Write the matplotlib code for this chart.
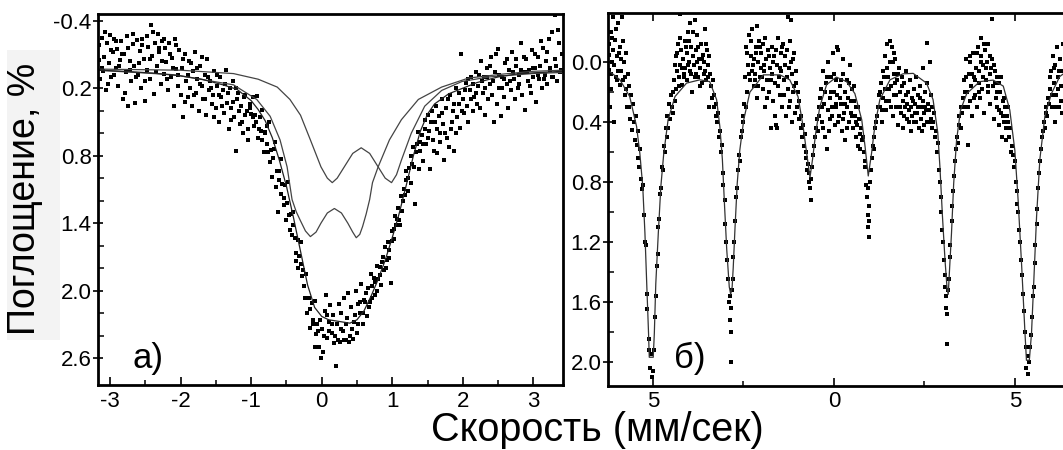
import matplotlib
matplotlib.use('Agg')
import matplotlib.pyplot as plt
from matplotlib.ticker import MultipleLocator
from matplotlib.patches import Rectangle

plt.rcParams['font.family'] = ['Liberation Sans', 'DejaVu Sans']
plt.rcParams['axes.unicode_minus'] = False

# ---- panel a) : measured points (velocity mm/s, absorption %)
a_points = [
    (-3.16, -0.18), (-3.14, 0.12), (-3.12, -0.25), (-3.10, 0.05), (-3.08, -0.08), (-3.06, 0.22),
    (-3.04, -0.20), (-3.02, -0.02), (-3.00, -0.27), (-2.98, 0.10), (-2.96, -0.12), (-2.94, -0.24),
    (-2.92, 0.02), (-2.90, -0.15), (-2.88, 0.18), (-2.86, -0.05), (-2.84, -0.22), (-2.82, 0.30),
    (-2.80, -0.10), (-2.78, 0.06), (-2.76, -0.26), (-2.74, 0.36), (-2.72, -0.04), (-2.70, 0.14),
    (-2.68, -0.19), (-2.66, 0.00), (-2.64, 0.33), (-2.62, -0.23), (-2.60, 0.08), (-2.58, -0.13),
    (-2.56, 0.20), (-2.54, -0.24), (-2.52, -0.06), (-2.50, 0.31), (-2.48, 0.04), (-2.46, -0.17),
    (-2.44, 0.12), (-2.42, -0.36), (-2.40, -0.09), (-2.38, 0.25), (-2.36, -0.20), (-2.34, 0.00),
    (-2.32, -0.28), (-2.30, -0.12), (-2.28, 0.16), (-2.26, -0.22), (-2.24, 0.07), (-2.22, -0.16),
    (-2.20, -0.03), (-2.18, 0.22), (-2.16, -0.20), (-2.14, 0.10), (-2.12, -0.07), (-2.10, 0.36),
    (-2.08, -0.24), (-2.06, 0.03), (-2.04, 0.18), (-2.02, -0.14), (-2.00, 0.26),
    (-1.98, 0.02), (-1.96, 0.46), (-1.94, -0.10), (-1.92, 0.14), (-1.90, 0.28), (-1.88, -0.04),
    (-1.86, 0.20), (-1.84, 0.36), (-1.82, 0.05), (-1.80, -0.12), (-1.78, 0.24), (-1.76, 0.12),
    (-1.74, 0.40), (-1.72, 0.00), (-1.70, 0.18), (-1.68, 0.30), (-1.66, 0.08), (-1.64, 0.44),
    (-1.62, -0.06), (-1.60, 0.22), (-1.58, 0.14), (-1.56, 0.34), (-1.54, 0.26), (-1.52, 0.05),
    (-1.50, 0.38), (-1.48, 0.18), (-1.46, 0.50), (-1.44, 0.10), (-1.42, 0.28), (-1.40, 0.22),
    (-1.38, 0.42), (-1.36, 0.04), (-1.34, 0.33), (-1.32, 0.56), (-1.30, 0.20), (-1.28, 0.38),
    (-1.26, 0.14), (-1.24, 0.46), (-1.22, 0.76), (-1.20, 0.30), (-1.18, 0.24), (-1.16, 0.52),
    (-1.14, 0.36), (-1.12, 0.60), (-1.10, 0.28), (-1.08, 0.44), (-1.06, 0.40), (-1.04, 0.66),
    (-1.02, 0.34),
    (-1.00, 0.43), (-0.98, 0.28), (-0.96, 0.54), (-0.94, 0.44), (-0.92, 0.27), (-0.90, 0.64),
    (-0.88, 0.46), (-0.86, 0.58), (-0.84, 0.39), (-0.82, 0.77), (-0.80, 0.59), (-0.78, 0.54),
    (-0.76, 0.77), (-0.74, 0.50), (-0.72, 0.75), (-0.70, 0.99), (-0.68, 0.74), (-0.66, 0.68),
    (-0.64, 0.94), (-0.62, 1.30), (-0.60, 0.94), (-0.58, 0.83), (-0.56, 1.05), (-0.54, 1.18),
    (-0.52, 1.06), (-0.50, 1.37), (-0.48, 1.03), (-0.46, 1.33), (-0.44, 1.32), (-0.42, 1.51),
    (-0.40, 1.30), (-0.38, 1.53), (-0.36, 1.67), (-0.34, 1.55), (-0.32, 1.69), (-0.30, 1.57),
    (-0.28, 1.87), (-0.26, 1.82), (-0.24, 2.07), (-0.22, 1.85), (-0.20, 2.07), (-0.18, 2.07),
    (-0.16, 2.33), (-0.14, 2.11), (-0.12, 2.26), (-0.10, 2.09), (-0.08, 2.39), (-0.06, 2.30),
    (-0.04, 2.50), (-0.02, 2.26),
    (0.00, 2.34), (0.02, 2.55), (0.04, 2.18), (0.06, 2.04), (0.08, 2.42), (0.10, 2.28),
    (0.12, 2.13), (0.14, 2.38), (0.16, 2.22), (0.18, 2.47), (0.20, 2.67), (0.22, 2.30),
    (0.24, 2.12), (0.26, 2.46), (0.28, 2.20), (0.30, 2.36), (0.32, 2.07), (0.34, 2.44),
    (0.36, 2.24), (0.38, 2.02), (0.40, 2.40), (0.42, 2.15), (0.44, 2.43), (0.46, 2.28),
    (0.48, 2.00), (0.50, 2.38), (0.52, 2.12), (0.54, 2.20), (0.56, 1.94), (0.58, 2.30),
    (0.60, 2.08),
    (0.62, 2.10), (0.64, 2.23), (0.66, 1.98), (0.68, 2.10), (0.70, 1.85), (0.72, 2.07),
    (0.74, 1.89), (0.76, 2.04), (0.78, 1.78), (0.80, 1.90), (0.82, 1.79), (0.84, 1.95),
    (0.86, 1.75), (0.88, 1.82), (0.90, 1.61), (0.92, 1.73), (0.94, 1.57), (0.96, 1.71),
    (0.98, 1.93), (1.00, 1.47), (1.02, 1.54), (1.04, 1.34), (1.06, 1.42), (1.08, 1.27),
    (1.10, 1.37), (1.12, 1.16), (1.14, 1.29), (1.16, 1.10), (1.18, 1.15), (1.20, 0.94),
    (1.22, 1.11), (1.24, 0.91), (1.26, 1.04), (1.28, 0.87), (1.30, 0.72), (1.32, 1.23),
    (1.34, 0.77), (1.36, 0.59), (1.38, 0.92), (1.40, 0.68),
    (1.42, 0.62), (1.44, 0.85), (1.46, 0.48), (1.48, 0.70), (1.50, 0.44), (1.52, 0.58),
    (1.54, 0.92), (1.56, 0.40), (1.58, 0.66), (1.60, 0.50), (1.62, 0.36), (1.64, 0.78),
    (1.66, 0.45), (1.68, 0.60), (1.70, 0.30), (1.72, 0.52), (1.74, 0.84), (1.76, 0.38),
    (1.78, 0.64), (1.80, 0.72), (1.82, 0.26), (1.84, 0.50), (1.86, 0.40), (1.88, 0.76),
    (1.90, 0.20), (1.92, 0.46), (1.94, 0.34), (1.96, 0.55), (1.98, -0.10), (2.00, 0.30),
    (2.02, 0.42), (2.04, 0.15), (2.06, 0.36), (2.08, 0.50), (2.10, 0.22), (2.12, 0.10),
    (2.14, 0.40), (2.16, 0.28), (2.18, 0.06), (2.20, 0.34),
    (2.22, 0.18), (2.24, 0.38), (2.26, -0.04), (2.28, 0.24), (2.30, 0.10), (2.32, 0.44),
    (2.34, 0.02), (2.36, 0.30), (2.38, 0.16), (2.40, -0.08), (2.42, 0.26), (2.44, 0.50),
    (2.46, 0.06), (2.48, 0.34), (2.50, -0.15), (2.52, 0.20), (2.54, 0.45), (2.56, 0.10),
    (2.58, 0.28), (2.60, -0.02), (2.62, 0.16), (2.64, 0.38), (2.66, 0.04), (2.68, 0.22),
    (2.70, -0.12), (2.72, 0.12), (2.74, 0.30), (2.76, 0.00), (2.78, 0.20), (2.80, 0.08),
    (2.82, -0.20), (2.84, 0.26), (2.86, 0.06), (2.88, 0.39), (2.90, -0.06), (2.92, 0.14),
    (2.94, 0.04), (2.96, 0.24), (2.98, -0.14), (3.00, 0.10), (3.02, 0.02), (3.04, 0.32),
    (3.06, -0.08), (3.08, 0.12), (3.10, 0.00), (3.12, 0.20), (3.14, -0.16), (3.16, 0.08),
    (3.18, -0.04), (3.20, 0.16), (3.22, -0.24), (3.24, 0.04), (3.26, -0.30), (3.28, 0.10),
    (3.30, -0.45), (3.32, 0.00), (3.34, 0.14), (3.36, -0.20), (3.38, 0.06), (3.40, -0.10),
    # second sweep of the same velocity range
    (-3.15, -0.05), (-3.11, 0.02), (-3.07, -0.30), (-3.03, 0.16), (-2.99, -0.14), (-2.95, 0.08),
    (-2.91, -0.22), (-2.87, 0.00), (-2.83, -0.10), (-2.79, 0.24), (-2.75, -0.16), (-2.71, 0.04),
    (-2.67, -0.28), (-2.63, 0.10), (-2.59, -0.02), (-2.55, -0.18), (-2.51, 0.14), (-2.47, -0.26),
    (-2.43, -0.06), (-2.39, -0.30), (-2.35, 0.06), (-2.31, -0.16), (-2.27, -0.04), (-2.23, -0.24),
    (-2.19, 0.12), (-2.15, -0.10), (-2.11, 0.02), (-2.07, -0.18), (-2.03, 0.08),
    (-1.97, -0.06), (-1.93, 0.32), (-1.89, 0.08), (-1.85, -0.02), (-1.81, 0.26), (-1.77, 0.02),
    (-1.73, 0.16), (-1.69, -0.08), (-1.65, 0.30), (-1.61, 0.10), (-1.57, 0.20), (-1.53, 0.46),
    (-1.49, 0.08), (-1.45, 0.26), (-1.41, 0.36), (-1.37, 0.16), (-1.33, 0.24), (-1.29, 0.48),
    (-1.25, 0.32), (-1.21, 0.20), (-1.17, 0.40), (-1.13, 0.50), (-1.09, 0.26), (-1.05, 0.56),
    (-1.01, 0.38),
    (-0.97, 0.46), (-0.93, 0.50), (-0.89, 0.56), (-0.85, 0.66), (-0.81, 0.60), (-0.77, 0.70),
    (-0.73, 0.86), (-0.69, 0.82), (-0.65, 1.08), (-0.61, 1.02), (-0.57, 1.14), (-0.53, 1.24),
    (-0.49, 1.22), (-0.45, 1.46), (-0.41, 1.42), (-0.37, 1.74), (-0.33, 1.80), (-0.29, 1.76),
    (-0.25, 1.96), (-0.21, 2.20), (-0.17, 2.16), (-0.13, 2.30), (-0.09, 2.50), (-0.05, 2.36),
    (-0.01, 2.60),
    (0.03, 2.40), (0.07, 2.22), (0.11, 2.36), (0.15, 2.30), (0.19, 2.40), (0.23, 2.44),
    (0.27, 2.34), (0.31, 2.44), (0.35, 2.30), (0.39, 2.46), (0.43, 2.34), (0.47, 2.22),
    (0.51, 2.30), (0.55, 2.10), (0.59, 2.20),
    (0.63, 2.02), (0.67, 2.15), (0.71, 1.96), (0.75, 1.92), (0.79, 2.00), (0.83, 1.86),
    (0.87, 1.70), (0.91, 1.80), (0.95, 1.64), (0.99, 1.56), (1.03, 1.45), (1.07, 1.36),
    (1.11, 1.42), (1.15, 1.20), (1.19, 1.02), (1.23, 1.00), (1.27, 0.80), (1.31, 0.90),
    (1.35, 0.70), (1.39, 0.76),
    (1.43, 0.70), (1.47, 0.56), (1.51, 0.64), (1.55, 0.50), (1.59, 0.76), (1.63, 0.56),
    (1.67, 0.68), (1.71, 0.42), (1.75, 0.60), (1.79, 0.30), (1.83, 0.56), (1.87, 0.34),
    (1.91, 0.60), (1.95, 0.24), (1.99, 0.40), (2.03, 0.22), (2.07, 0.12), (2.11, 0.30),
    (2.15, 0.16), (2.19, 0.24), (2.23, 0.08), (2.27, 0.14), (2.31, 0.20), (2.35, 0.10),
    (2.39, 0.00), (2.43, 0.14), (2.47, -0.10), (2.51, 0.08), (2.55, 0.20), (2.59, 0.12),
    (2.63, -0.06), (2.67, 0.14), (2.71, 0.06), (2.75, -0.06), (2.79, 0.16), (2.83, 0.04),
    (2.87, -0.08), (2.91, 0.06), (2.95, 0.18), (2.99, 0.02), (3.03, -0.10), (3.07, 0.08),
    (3.11, -0.22), (3.15, 0.12), (3.19, -0.12), (3.23, 0.02), (3.27, 0.10), (3.31, -0.06),
    (3.35, -0.32), (3.39, 0.04),
]

# ---- panel a) : fitted envelope and the two doublets
a_fit_x = [-3.17, -2.8, -2.4, -2.0, -1.7, -1.4, -1.2, -1.0, -0.9, -0.8, -0.7, -0.6, -0.5, -0.4,
           -0.3, -0.2, -0.1, 0.0, 0.1, 0.2, 0.3, 0.4, 0.5, 0.6, 0.7, 0.8, 0.9, 1.0, 1.1, 1.2,
           1.3, 1.4, 1.5, 1.6, 1.8, 2.0, 2.2, 2.5, 2.8, 3.1, 3.42]
a_fit_y = [0.04, 0.05, 0.065, 0.09, 0.12, 0.17, 0.21, 0.31, 0.39, 0.49, 0.64, 0.84, 1.07, 1.35,
           1.65, 1.95, 2.15, 2.23, 2.26, 2.27, 2.28, 2.29, 2.26, 2.18, 2.05, 1.90, 1.73, 1.53,
           1.31, 1.06, 0.80, 0.58, 0.43, 0.34, 0.25, 0.20, 0.15, 0.10, 0.07, 0.06, 0.05]

a_d1_x = [-3.17, -2.1, -1.25, -0.92, -0.73, -0.59, -0.49, -0.42, -0.36, -0.30, -0.23, -0.16,
          -0.08, -0.01, 0.08, 0.18, 0.28, 0.37, 0.44, 0.49, 0.54, 0.58, 0.63, 0.68, 0.72, 0.80,
          0.96, 1.13, 1.37, 1.70, 2.08, 2.56, 2.99, 3.42]
a_d1_y = [0.04, 0.08, 0.17, 0.30, 0.45, 0.66, 0.90, 1.19, 1.30, 1.38, 1.47, 1.52, 1.48, 1.40,
          1.31, 1.27, 1.31, 1.40, 1.48, 1.53, 1.50, 1.43, 1.32, 1.19, 1.04, 0.90, 0.66, 0.48,
          0.30, 0.19, 0.11, 0.075, 0.05, 0.04]

a_d2_x = [-3.17, -2.0, -1.25, -0.9, -0.63, -0.45, -0.30, -0.16, -0.01, 0.08, 0.15, 0.22,
          0.32, 0.44, 0.56, 0.68, 0.80, 0.90, 0.99, 1.06, 1.13, 1.27, 1.46, 1.70, 1.99, 2.37,
          2.99, 3.42]
a_d2_y = [0.03, 0.04, 0.07, 0.12, 0.19, 0.30, 0.44, 0.66, 0.90, 1.00, 1.04, 1.00, 0.90, 0.78,
          0.73, 0.78, 0.90, 1.00, 1.04, 0.97, 0.84, 0.60, 0.36, 0.22, 0.14, 0.10, 0.07, 0.06]

# ---- panel б) : measured points
b_points = [
    (-6.22, 0.05), (-6.20, -0.12), (-6.17, 0.18), (-6.15, -0.20), (-6.12, 0.00), (-6.10, -0.08),
    (-6.07, 0.40), (-6.05, -0.15), (-6.02, 0.10), (-6.00, -0.04), (-5.97, -0.26), (-5.95, 0.06),
    (-5.92, -0.10), (-5.90, 0.15), (-5.87, -0.02), (-5.85, -0.30), (-5.82, 0.12), (-5.80, 0.00),
    (-5.77, 0.22), (-5.75, -0.06), (-5.72, 0.30), (-5.70, 0.08),
    (-5.67, 0.30), (-5.65, 0.16), (-5.62, 0.38), (-5.60, 0.22), (-5.57, 0.45), (-5.55, 0.28),
    (-5.52, 0.40), (-5.50, 0.52), (-5.47, 0.36), (-5.45, 0.55), (-5.42, 0.46), (-5.40, 0.64),
    (-5.37, 0.70), (-5.35, 0.58), (-5.32, 0.78), (-5.30, 0.85), (-5.27, 0.82), (-5.25, 1.02),
    (-5.22, 1.20), (-5.20, 1.22), (-5.17, 1.55), (-5.15, 1.65), (-5.12, 1.85), (-5.10, 1.92),
    (-5.07, 2.04), (-5.05, 1.95), (-5.02, 2.10), (-5.00, 2.06), (-4.97, 1.92), (-4.95, 1.70),
    (-4.92, 1.56), (-4.90, 1.36), (-4.87, 1.28), (-4.85, 1.10), (-4.82, 1.05), (-4.80, 0.88),
    (-4.77, 0.84), (-4.75, 0.70), (-4.72, 0.72), (-4.70, 0.56), (-4.67, 0.60), (-4.65, 0.44),
    (-4.62, 0.50), (-4.60, 0.36), (-4.57, 0.44), (-4.55, 0.28), (-4.52, 0.38), (-4.50, 0.22),
    (-4.47, 0.30),
    (-4.45, 0.34), (-4.42, 0.12), (-4.40, 0.26), (-4.37, -0.04), (-4.35, 0.18), (-4.32, 0.06),
    (-4.30, -0.12), (-4.27, 0.10), (-4.25, 0.02), (-4.22, -0.08), (-4.20, 0.15), (-4.17, -0.02),
    (-4.15, 0.08), (-4.12, -0.14), (-4.10, 0.04), (-4.07, -0.06), (-4.05, 0.12), (-4.02, -0.20),
    (-4.00, 0.00), (-3.97, 0.06), (-3.95, -0.10), (-3.92, 0.20), (-3.90, -0.04), (-3.87, 0.02),
    (-3.85, -0.28), (-3.82, 0.08), (-3.80, -0.08), (-3.77, -0.18), (-3.75, 0.10), (-3.72, -0.02),
    (-3.70, 0.04), (-3.67, -0.12), (-3.65, 0.14), (-3.62, -0.05), (-3.60, 0.00), (-3.57, -0.22),
    (-3.55, 0.06), (-3.52, 0.12), (-3.50, -0.08), (-3.47, 0.02), (-3.45, 0.30), (-3.42, 0.08),
    (-3.40, 0.16),
    (-3.37, 0.24), (-3.35, 0.12), (-3.32, 0.30), (-3.30, 0.22), (-3.27, 0.36), (-3.25, 0.28),
    (-3.22, 0.40), (-3.20, 0.34), (-3.17, 0.50), (-3.15, 0.46), (-3.12, 0.60), (-3.10, 0.55),
    (-3.07, 0.74), (-3.05, 0.82), (-3.02, 0.92), (-3.00, 1.08), (-2.97, 1.20), (-2.95, 1.32),
    (-2.92, 1.45), (-2.90, 1.60), (-2.88, 1.56), (-2.87, 1.72), (-2.85, 1.64), (-2.84, 1.80),
    (-2.83, 2.00), (-2.82, 1.52), (-2.80, 1.45), (-2.78, 1.30), (-2.75, 1.20), (-2.73, 1.06),
    (-2.70, 0.90), (-2.68, 0.84), (-2.65, 0.72), (-2.62, 0.62), (-2.60, 0.66), (-2.57, 0.50),
    (-2.55, 0.46), (-2.52, 0.36), (-2.50, 0.40), (-2.47, 0.28),
    (-2.45, 0.10), (-2.42, -0.10), (-2.40, 0.20), (-2.37, 0.02), (-2.35, -0.18), (-2.32, 0.12),
    (-2.30, -0.04), (-2.27, 0.06), (-2.25, -0.22), (-2.22, 0.16), (-2.20, -0.02), (-2.17, 0.08),
    (-2.15, -0.10), (-2.12, 0.24), (-2.10, 0.00), (-2.07, -0.14), (-2.05, 0.10), (-2.02, 0.04),
    (-2.00, -0.06), (-1.97, 0.18), (-1.95, -0.12), (-1.92, 0.06), (-1.90, 0.30), (-1.87, -0.02),
    (-1.85, 0.12), (-1.82, -0.08), (-1.80, 0.20), (-1.77, 0.04), (-1.75, 0.44), (-1.72, -0.10),
    (-1.70, 0.08), (-1.67, 0.26), (-1.65, -0.04), (-1.62, 0.14), (-1.60, 0.42), (-1.57, 0.02),
    (-1.55, -0.16), (-1.52, 0.10), (-1.50, 0.22), (-1.47, -0.06), (-1.45, 0.06), (-1.42, 0.30),
    (-1.40, -0.12), (-1.37, 0.12), (-1.35, 0.02), (-1.32, 0.36), (-1.30, -0.08), (-1.28, -0.30),
    (-1.27, 0.18), (-1.25, 0.04), (-1.22, -0.14), (-1.20, 0.26), (-1.19, -0.28), (-1.17, 0.08),
    (-1.15, 0.40), (-1.12, -0.02), (-1.10, 0.16), (-1.07, 0.34), (-1.05, 0.06),
    (-1.02, 0.30), (-1.00, 0.20), (-0.97, 0.38), (-0.95, 0.26), (-0.92, 0.44), (-0.90, 0.36),
    (-0.87, 0.50), (-0.85, 0.42), (-0.82, 0.56), (-0.80, 0.48), (-0.78, 0.64), (-0.76, 0.60),
    (-0.74, 0.72), (-0.72, 0.68), (-0.70, 0.80), (-0.68, 0.74), (-0.66, 0.84), (-0.64, 0.78),
    (-0.62, 0.92), (-0.60, 0.70), (-0.58, 0.62), (-0.55, 0.56), (-0.52, 0.50), (-0.50, 0.44),
    (-0.47, 0.38), (-0.45, 0.46), (-0.42, 0.30), (-0.40, 0.36), (-0.37, 0.24),
    (-0.35, 0.18), (-0.32, 0.40), (-0.30, 0.06), (-0.27, 0.28), (-0.25, 0.50), (-0.22, 0.14),
    (-0.20, 0.58), (-0.17, 0.32), (-0.15, 0.00), (-0.12, 0.24), (-0.10, 0.38), (-0.07, 0.10),
    (-0.05, 0.30), (-0.02, -0.06), (0.00, 0.20), (0.02, 0.42), (0.05, 0.12), (0.07, 0.30),
    (0.10, 0.22), (0.12, -0.08), (0.15, 0.36), (0.17, 0.16), (0.20, 0.28), (0.22, 0.46),
    (0.25, 0.08), (0.27, 0.34), (0.30, 0.20), (0.32, 0.52), (0.35, 0.12), (0.37, 0.30),
    (0.40, 0.24), (0.42, 0.40), (0.45, 0.02), (0.47, 0.34), (0.50, 0.18), (0.52, 0.44),
    (0.55, 0.26), (0.57, 0.36), (0.60, 0.50), (0.62, 0.30), (0.65, 0.42), (0.67, 0.56),
    (0.70, 0.38), (0.72, 0.48),
    (0.75, 0.44), (0.77, 0.52), (0.80, 0.50), (0.82, 0.60), (0.85, 0.66), (0.87, 0.70),
    (0.90, 0.82), (0.92, 0.90), (0.93, 1.02), (0.94, 0.84), (0.95, 1.10), (0.96, 0.96),
    (0.97, 1.17), (0.98, 1.06), (1.00, 0.80), (1.02, 0.72), (1.05, 0.64), (1.07, 0.56),
    (1.10, 0.50), (1.12, 0.58), (1.15, 0.44), (1.17, 0.40), (1.20, 0.36), (1.22, 0.30),
    (1.25, 0.22),
    (1.27, 0.30), (1.30, 0.14), (1.32, 0.40), (1.35, 0.06), (1.37, 0.24), (1.40, -0.04),
    (1.42, 0.18), (1.45, 0.32), (1.47, -0.12), (1.50, 0.10), (1.52, 0.26), (1.55, 0.00),
    (1.57, 0.16), (1.60, -0.10), (1.62, 0.36), (1.65, 0.08), (1.67, 0.22), (1.70, -0.02),
    (1.72, 0.30), (1.75, 0.12), (1.77, 0.42), (1.80, 0.04), (1.82, 0.20), (1.85, 0.34),
    (1.87, 0.10), (1.90, 0.26), (1.92, 0.44), (1.95, 0.14), (1.97, 0.30), (2.00, 0.06),
    (2.02, 0.38), (2.05, 0.20), (2.07, 0.32), (2.10, 0.12), (2.12, 0.46), (2.15, 0.24),
    (2.17, 0.36), (2.20, 0.18), (2.22, 0.40), (2.25, 0.28), (2.27, 0.10), (2.30, 0.34),
    (2.32, 0.22), (2.35, 0.44), (2.37, 0.16), (2.40, 0.30), (2.42, 0.38), (2.45, 0.04),
    (2.47, 0.26), (2.50, 0.42), (2.52, 0.20), (2.55, 0.32), (2.56, -0.13), (2.57, 0.14),
    (2.60, 0.28), (2.62, 0.40), (2.65, 0.00), (2.67, 0.22), (2.70, 0.44),
    (2.72, 0.30), (2.75, 0.40), (2.77, 0.34), (2.80, 0.50), (2.82, 0.46), (2.85, 0.60),
    (2.87, 0.54), (2.90, 0.72), (2.92, 0.80), (2.95, 0.90), (2.97, 1.00), (3.00, 1.12),
    (3.02, 1.20), (3.05, 1.32), (3.07, 1.42), (3.08, 1.50), (3.10, 1.56), (3.11, 1.64),
    (3.12, 1.88), (3.13, 1.68), (3.15, 1.52), (3.17, 1.45), (3.20, 1.30), (3.22, 1.22),
    (3.25, 1.06), (3.27, 0.96), (3.30, 0.86), (3.32, 0.76), (3.35, 0.66), (3.37, 0.58),
    (3.40, 0.50), (3.42, 0.54), (3.45, 0.42), (3.47, 0.36), (3.50, 0.44), (3.52, 0.30),
    (3.55, 0.34), (3.57, 0.24),
    (3.60, 0.12), (3.62, 0.30), (3.65, -0.02), (3.67, 0.20), (3.70, 0.55), (3.72, 0.08),
    (3.75, 0.26), (3.77, 0.00), (3.80, 0.16), (3.82, 0.36), (3.85, -0.06), (3.87, 0.10),
    (3.90, 0.22), (3.92, 0.04), (3.95, 0.30), (3.97, -0.10), (4.00, 0.14), (4.02, 0.06),
    (4.05, 0.24), (4.07, -0.04), (4.10, 0.18), (4.12, 0.02), (4.15, 0.34), (4.17, -0.08),
    (4.20, 0.12), (4.22, 0.00), (4.25, 0.20), (4.27, -0.12), (4.30, 0.08), (4.32, 0.28),
    (4.35, 0.04), (4.36, -0.29), (4.37, -0.02), (4.40, 0.16), (4.42, 0.38), (4.45, 0.06),
    (4.47, 0.24), (4.50, 0.10), (4.52, 0.30), (4.55, 0.14), (4.57, 0.42), (4.60, 0.20),
    (4.62, 0.34), (4.65, 0.50), (4.67, 0.26), (4.70, 0.40), (4.72, 0.30), (4.75, 0.52),
    (4.77, 0.36),
    (4.80, 0.40), (4.82, 0.30), (4.85, 0.50), (4.87, 0.44), (4.90, 0.60), (4.92, 0.56),
    (4.95, 0.62), (4.97, 0.70), (5.00, 0.66), (5.02, 0.80), (5.05, 0.86), (5.07, 0.95),
    (5.10, 1.00), (5.12, 1.12), (5.15, 1.20), (5.17, 1.32), (5.20, 1.42), (5.22, 1.55),
    (5.25, 1.66), (5.27, 1.80), (5.30, 1.90), (5.32, 2.04), (5.35, 1.96), (5.37, 2.08),
    (5.40, 2.00), (5.42, 1.90), (5.45, 1.82), (5.47, 1.70), (5.50, 1.56), (5.52, 1.50),
    (5.55, 1.34), (5.57, 1.22), (5.60, 1.08), (5.62, 0.98), (5.65, 0.84), (5.67, 0.74),
    (5.70, 0.66), (5.72, 0.58), (5.75, 0.50), (5.77, 0.46), (5.80, 0.40), (5.82, 0.44),
    (5.85, 0.34), (5.87, 0.30), (5.90, 0.36), (5.92, 0.24), (5.95, 0.28),
    (5.97, 0.18), (6.00, 0.06), (6.02, 0.30), (6.05, -0.04), (6.07, 0.14), (6.10, 0.40),
    (6.12, 0.02), (6.15, 0.22), (6.17, -0.10), (6.20, 0.10), (6.22, 0.30), (6.25, -0.02),
    (6.27, 0.16), (6.30, 0.06), (6.32, -0.12),
    # second sweep, baseline stretches between the lines
    (-6.21, -0.05), (-6.16, 0.08), (-6.13, -0.16), (-6.08, 0.02), (-6.03, -0.22), (-5.98, 0.12),
    (-5.93, -0.06), (-5.88, 0.06), (-5.83, -0.14), (-5.78, 0.10), (-5.73, 0.18), (-6.18, 0.30),
    (-6.11, -0.30),
    (-4.44, 0.20), (-4.39, 0.02), (-4.34, -0.06), (-4.29, 0.16), (-4.24, -0.16), (-4.19, 0.04),
    (-4.14, 0.10), (-4.09, -0.10), (-4.04, 0.02), (-3.99, -0.14), (-3.94, 0.08), (-3.89, -0.20),
    (-3.84, 0.10), (-3.79, 0.00), (-3.74, -0.10), (-3.69, 0.16), (-3.64, -0.02), (-3.59, 0.08),
    (-3.54, -0.12), (-3.49, 0.10), (-3.44, -0.04), (-4.26, -0.32), (-3.98, -0.26),
    (-2.44, 0.30), (-2.39, -0.06), (-2.34, 0.08), (-2.29, -0.14), (-2.24, 0.02), (-2.19, 0.12),
    (-2.14, -0.06), (-2.09, 0.16), (-2.04, -0.10), (-1.99, 0.10), (-1.94, 0.02), (-1.89, -0.16),
    (-1.84, 0.24), (-1.79, -0.04), (-1.74, 0.12), (-1.69, 0.00), (-1.64, 0.36), (-1.59, -0.08),
    (-1.54, 0.16), (-1.49, 0.04), (-1.44, -0.10), (-1.39, 0.22), (-1.34, -0.04), (-1.29, 0.10),
    (-1.24, 0.30), (-1.19, 0.00), (-1.14, 0.20), (-1.09, -0.06), (-1.04, 0.14), (-2.12, -0.24),
    (-1.56, 0.44),
    (-0.34, 0.30), (-0.29, 0.44), (-0.24, 0.20), (-0.19, 0.10), (-0.14, 0.46), (-0.09, 0.20),
    (-0.04, 0.36), (0.01, 0.08), (0.06, 0.28), (0.11, 0.40), (0.16, 0.24), (0.21, 0.12),
    (0.26, 0.38), (0.31, 0.28), (0.36, 0.44), (0.41, 0.14), (0.46, 0.26), (0.51, 0.36),
    (0.56, 0.16), (0.61, 0.40), (0.66, 0.30), (0.71, 0.58), (0.09, -0.10), (0.24, -0.02),
    (1.28, 0.20), (1.33, 0.32), (1.38, 0.10), (1.43, 0.26), (1.48, 0.04), (1.53, 0.18),
    (1.58, 0.30), (1.63, 0.00), (1.68, 0.14), (1.73, 0.22), (1.78, 0.08), (1.83, 0.30),
    (1.88, 0.16), (1.93, 0.36), (1.98, 0.22), (2.03, 0.28), (2.08, 0.40), (2.13, 0.30),
    (2.18, 0.26), (2.23, 0.34), (2.28, 0.40), (2.33, 0.30), (2.38, 0.24), (2.43, 0.46),
    (2.48, 0.34), (2.53, 0.30), (2.58, 0.40), (2.63, 0.32), (2.68, 0.38), (1.56, -0.14),
    (1.66, -0.06),
    (3.61, 0.20), (3.66, 0.10), (3.71, 0.30), (3.76, -0.04), (3.81, 0.08), (3.86, 0.24),
    (3.91, 0.12), (3.96, -0.06), (4.01, 0.20), (4.06, 0.00), (4.11, 0.10), (4.16, -0.12),
    (4.21, 0.04), (4.26, 0.16), (4.31, -0.04), (4.41, 0.02), (4.46, 0.14), (4.51, 0.20),
    (4.56, 0.32), (4.61, 0.10), (4.66, 0.36), (4.71, 0.24), (4.76, 0.44), (4.06, -0.16),
    (5.98, 0.10), (6.03, 0.22), (6.08, 0.04), (6.13, 0.30), (6.18, 0.18), (6.23, 0.06),
    (6.28, 0.26), (6.31, 0.34),
]

# ---- panel б) : fitted sextet
b_fit_x = [-6.24, -6.19, -5.91, -5.64, -5.45, -5.36, -5.28, -5.22, -5.17, -5.12, -5.10, -4.99,
           -4.96, -4.92, -4.85, -4.78, -4.70, -4.58, -4.39, -4.07, -3.70, -3.43, -3.24, -3.15,
           -3.08, -3.02, -2.96, -2.89, -2.85, -2.81, -2.78, -2.73, -2.67, -2.60, -2.49, -2.32,
           -2.09, -1.95, -1.49, -1.22, -0.99, -0.85, -0.75, -0.66, -0.59, -0.50, -0.39, -0.20,
           0.07, 0.35, 0.58, 0.77, 0.86, 0.95, 1.04, 1.13, 1.27, 1.55, 1.91, 2.19, 2.56, 2.74,
           2.87, 2.93, 3.00, 3.07, 3.13, 3.16, 3.19, 3.25, 3.31, 3.39, 3.50, 3.67, 4.03, 4.40,
           4.68, 4.86, 5.00, 5.09, 5.19, 5.28, 5.32, 5.40, 5.46, 5.52, 5.60, 5.69, 5.83, 6.01,
           6.24, 6.33]
b_fit_y = [0.07, 0.063, 0.118, 0.23, 0.43, 0.61, 0.83, 1.14, 1.48, 1.81, 1.97, 1.97,
           1.81, 1.48, 1.14, 0.83, 0.61, 0.385, 0.23, 0.14, 0.118, 0.13, 0.25, 0.43,
           0.65, 0.96, 1.25, 1.50, 1.55, 1.50, 1.37, 1.10, 0.81, 0.59, 0.385, 0.20,
           0.13, 0.085, 0.085, 0.118, 0.23, 0.43, 0.61, 0.77, 0.65, 0.47, 0.30, 0.15,
           0.10, 0.13, 0.21, 0.385, 0.56, 0.76, 0.61, 0.43, 0.25, 0.118, 0.078, 0.075, 0.14, 0.25,
           0.47, 0.70, 1.03, 1.32, 1.52, 1.55, 1.41, 1.14, 0.81, 0.52, 0.32, 0.21, 0.13, 0.12,
           0.16, 0.32, 0.59, 0.92, 1.37, 1.81, 1.99, 1.99, 1.81, 1.48, 1.03, 0.65, 0.36, 0.21,
           0.096, 0.08]

# ---- axis texts and ticks
a_yticks = [-0.4, 0.2, 0.8, 1.4, 2.0, 2.6]
a_yticklabels = ['-0.4', '0.2', '0.8', '1.4', '2.0', '2.6']
a_yminor = [0.4, 0.6, 1.0, 1.2, 1.6, 1.8, 2.2, 2.4]
a_xticks = [-3, -2, -1, 0, 1, 2, 3]
a_xticklabels = ['-3', '-2', '-1', '0', '1', '2', '3']
b_yticks = [0.0, 0.4, 0.8, 1.2, 1.6, 2.0]
b_yticklabels = ['0.0', '0.4', '0.8', '1.2', '1.6', '2.0']
b_yminor = [0.2, 0.6, 1.0, 1.4, 1.8]
b_xticks = [-5, 0, 5]
b_xticklabels = ['5', '0', '5']
Y_LABEL = 'Поглощение, %'
X_LABEL = 'Скорость (мм/сек)'

W, H = 1063, 450   # figure size in pixels


def style_axes(ax):
    for s in ax.spines.values():
        s.set_linewidth(2.0)
    ax.tick_params(axis='y', which='major', direction='inout', length=7, width=1.2,
                   labelsize=16, pad=1)
    ax.tick_params(axis='y', which='minor', direction='in', length=4, width=1.1)
    ax.tick_params(axis='x', which='major', direction='in', length=6, width=1.2,
                   labelsize=16, pad=4)
    ax.tick_params(axis='x', which='minor', direction='in', length=3.5, width=1.1)


def main():
    fig = plt.figure(figsize=(W / 100, H / 100), dpi=100)

    # faint grey box behind the y label, as in the scan
    fig.add_artist(Rectangle((7 / W, 1 - 340 / H), 53 / W, 290 / H, transform=fig.transFigure,
                             facecolor='#f3f3f3', edgecolor='none', zorder=0))

    ax_a = fig.add_axes([98 / W, 1 - 385 / H, 465 / W, 371 / H])
    ax_b = fig.add_axes([608 / W, 1 - 385.7 / H, (W - 608) / W, 373 / H])

    # panel a)
    ax_a.plot([p[0] for p in a_points], [p[1] for p in a_points], 's', ms=2.4, mew=0,
              color='black')
    ax_a.plot(a_d1_x, a_d1_y, color='#444444', lw=0.9)
    ax_a.plot(a_d2_x, a_d2_y, color='#444444', lw=0.9)
    ax_a.plot(a_fit_x, a_fit_y, color='#222222', lw=0.9)
    ax_a.set_xlim(-3.17, 3.42)
    ax_a.set_ylim(2.84, -0.46)
    ax_a.set_xticks(a_xticks, a_xticklabels)
    ax_a.xaxis.set_minor_locator(MultipleLocator(0.5))
    ax_a.set_yticks(a_yticks, a_yticklabels)
    ax_a.set_yticks(a_yminor, minor=True)
    style_axes(ax_a)
    ax_a.text(0.075, 0.046, 'а)', transform=ax_a.transAxes, fontsize=25, va='baseline')

    # panel б)
    ax_b.plot([p[0] for p in b_points], [p[1] for p in b_points], 's', ms=2.4, mew=0,
              color='black')
    ax_b.plot(b_fit_x, b_fit_y, color='#333333', lw=0.9)
    ax_b.set_xlim(-6.24, 6.33)
    ax_b.set_ylim(2.16, -0.33)
    ax_b.set_xticks(b_xticks, b_xticklabels)
    ax_b.xaxis.set_minor_locator(MultipleLocator(2.5))
    ax_b.set_yticks(b_yticks, b_yticklabels)
    ax_b.set_yticks(b_yminor, minor=True)
    style_axes(ax_b)
    ax_b.tick_params(axis='x', which='major', top=True)
    ax_b.spines['right'].set_visible(False)
    ax_b.text(0.145, 0.047, 'б)', transform=ax_b.transAxes, fontsize=25, va='baseline')

    fig.text(25 / W, 1 - 199 / H, Y_LABEL, rotation=90, fontsize=27, ha='center', va='center')
    fig.text(597 / W, 1 - 430 / H, X_LABEL, fontsize=28.5, ha='center', va='center')

    fig.savefig('out.png', dpi=100)


if __name__ == '__main__':
    main()
